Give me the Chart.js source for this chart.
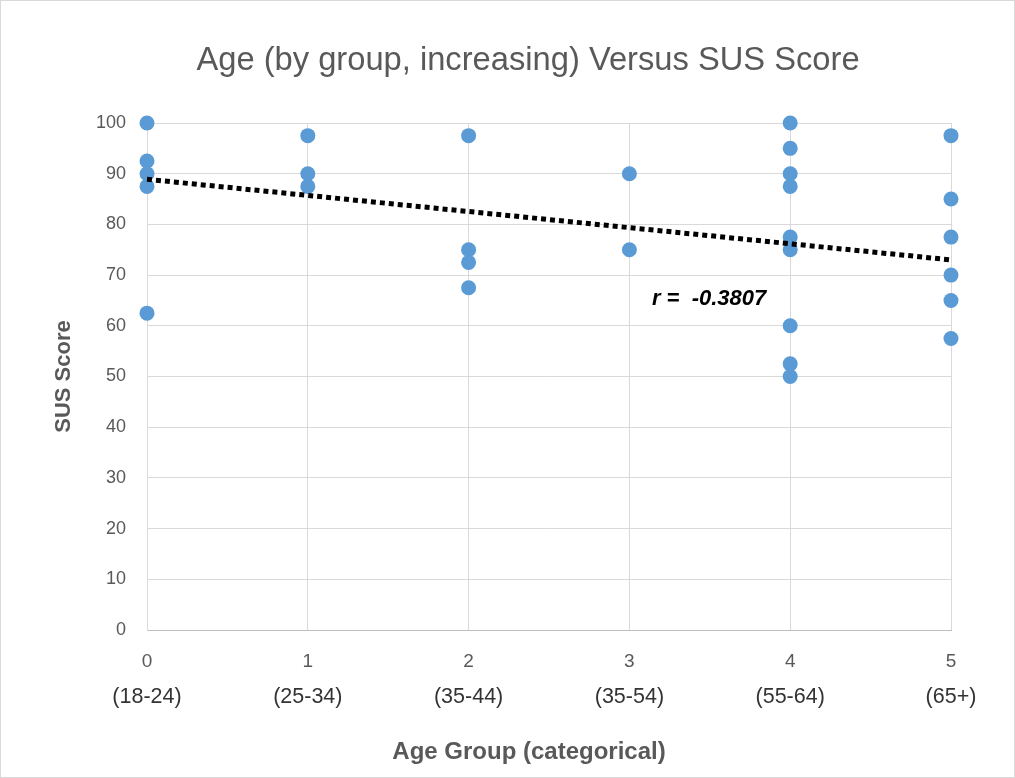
<!DOCTYPE html>
<html><head><meta charset="utf-8">
<script src="https://cdn.jsdelivr.net/npm/chart.js@4.4.0/dist/chart.umd.min.js"></script>
<style>
html,body{margin:0;padding:0;background:#fff;}
#wrap{position:absolute;left:0;top:0;width:1013px;height:776px;border:1px solid #d9d9d9;}
canvas{display:block;}
</style>
</head><body>
<div id="wrap"><canvas id="c" width="1013" height="776"></canvas></div>
<script>
// ---- data ----
const groupNumbers = [0, 1, 2, 3, 4, 5];
const groupLabels = ["(18-24)", "(25-34)", "(35-44)", "(35-54)", "(55-64)", "(65+)"];
const yTickValues = [0, 10, 20, 30, 40, 50, 60, 70, 80, 90, 100];
const group0 = [100, 92.5, 90, 87.5, 62.5];
const group1 = [97.5, 90, 87.5];
const group2 = [97.5, 75, 72.5, 67.5];
const group3 = [90, 75];
const group4 = [100, 95, 90, 87.5, 77.5, 75, 60, 52.5, 50];
const group5 = [97.5, 85, 77.5, 70, 65, 57.5];
const trendX = [0, 5];
const trendY = [88.9, 73.0];
const chartTitle = 'Age (by group, increasing) Versus SUS Score';
const xTitle = 'Age Group (categorical)';
const yTitle = 'SUS Score';
const rLabel = "r =  -0.3807";
const rLabelPos = [3.14, 65.3];

const groups = [group0, group1, group2, group3, group4, group5];
const scatterPoints = [];
groups.forEach((g, i) => g.forEach(v => scatterPoints.push({x: groupNumbers[i], y: v})));
const trendPoints = trendX.map((x, i) => ({x: x, y: trendY[i]}));

const FONT = "'Liberation Sans', Arial, sans-serif";
const GRAY = '#595959';

const textPlugin = {
  id: 'texts',
  afterDraw(chart) {
    const {ctx, scales} = chart;
    ctx.save();
    // chart title
    ctx.font = "32.7px " + FONT;
    ctx.fillStyle = GRAY;
    ctx.textAlign = 'center';
    ctx.textBaseline = 'alphabetic';
    ctx.fillText(chartTitle, 527, 68.5);
    // x axis title
    ctx.font = "bold 24px " + FONT;
    ctx.fillText(xTitle, 528, 758);
    // r annotation
    ctx.font = "italic bold 22px " + FONT;
    ctx.fillStyle = '#000';
    ctx.textAlign = 'left';
    ctx.textBaseline = 'middle';
    ctx.fillText(rLabel, scales.x.getPixelForValue(rLabelPos[0]), scales.y.getPixelForValue(rLabelPos[1]));
    ctx.restore();
  }
};

new Chart(document.getElementById('c'), {
  data: {
    datasets: [
      {
        type: 'line', data: trendPoints, borderColor: '#000', borderWidth: 5,
        borderDash: [5, 4], pointRadius: 0, fill: false, order: 0, clip: false
      },
      {
        type: 'scatter', data: scatterPoints, backgroundColor: '#5B9BD5',
        borderWidth: 0, pointRadius: 7.5, order: 1, clip: false
      }
    ]
  },
  options: {
    responsive: false,
    animation: false,
    devicePixelRatio: 1,
    layout: {padding: {left: 30, right: 63, top: 122, bottom: 0}},
    plugins: {
      legend: {display: false},
      tooltip: {enabled: false},
      title: {display: false}
    },
    scales: {
      x: {
        type: 'linear', min: 0, max: 5, position: 'bottom', weight: 0,
        afterBuildTicks: s => { s.ticks = groupNumbers.map(v => ({value: v})); },
        afterFit: s => { s.height = 46; },
        ticks: {color: GRAY, padding: 20, font: {family: FONT, size: 19}},
        grid: {color: '#d9d9d9', drawTicks: false},
        border: {color: '#bfbfbf'}
      },
      x2: {
        type: 'linear', min: 0, max: 5, position: 'bottom', weight: 1,
        afterBuildTicks: s => { s.ticks = groupNumbers.map(v => ({value: v})); },
        afterFit: s => { s.height = 101; },
        ticks: {
          color: '#333333', padding: 8,
          font: {family: FONT, size: 21.5},
          callback: v => groupLabels[v]
        },
        grid: {display: false, drawTicks: false},
        border: {display: false}
      },
      y: {
        type: 'linear', min: 0, max: 100,
        afterBuildTicks: s => { s.ticks = yTickValues.map(v => ({value: v})); },
        afterFit: s => { s.width = 116; },
        ticks: {color: GRAY, padding: 21, font: {family: FONT, size: 18}},
        grid: {color: '#d9d9d9', drawTicks: false},
        border: {color: '#d9d9d9'},
        title: {
          display: true, text: yTitle, color: GRAY,
          font: {family: FONT, size: 22, weight: 'bold'},
          padding: {top: 20, bottom: 0}
        }
      }
    }
  },
  plugins: [textPlugin]
});
</script>
</body></html>
